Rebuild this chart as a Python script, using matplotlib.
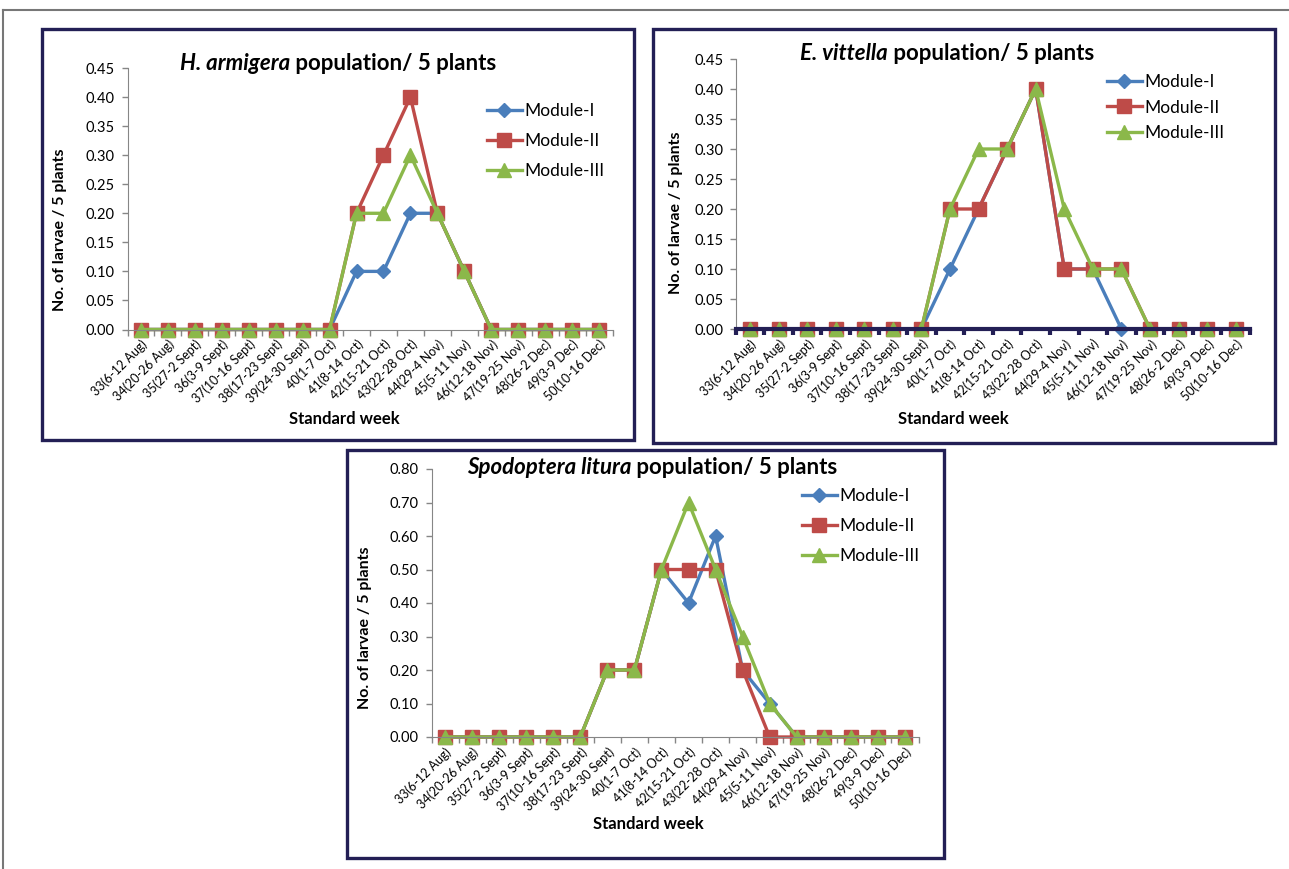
import matplotlib
matplotlib.use("Agg")
import matplotlib.pyplot as plt
from matplotlib.patches import Rectangle
from matplotlib.lines import Line2D
from matplotlib.transforms import IdentityTransform

plt.rcParams['font.family'] = ['Lato', 'DejaVu Sans']

W, H = 1289, 869

weeks = ["33(6-12 Aug)", "34(20-26 Aug)", "35(27-2 Sept)", "36(3-9 Sept)",
         "37(10-16 Sept)", "38(17-23 Sept)", "39(24-30 Sept)", "40(1-7 Oct)",
         "41(8-14 Oct)", "42(15-21 Oct)", "43(22-28 Oct)", "44(29-4 Nov)",
         "45(5-11 Nov)", "46(12-18 Nov)", "47(19-25 Nov)", "48(26-2 Dec)",
         "49(3-9 Dec)", "50(10-16 Dec)"]
modules = ["Module-I", "Module-II", "Module-III"]

# H. armigera
ha_m1 = [0, 0, 0, 0, 0, 0, 0, 0, 0.1, 0.1, 0.2, 0.2, 0.1, 0, 0, 0, 0, 0]
ha_m2 = [0, 0, 0, 0, 0, 0, 0, 0, 0.2, 0.3, 0.4, 0.2, 0.1, 0, 0, 0, 0, 0]
ha_m3 = [0, 0, 0, 0, 0, 0, 0, 0, 0.2, 0.2, 0.3, 0.2, 0.1, 0, 0, 0, 0, 0]

# E. vittella
ev_m1 = [0, 0, 0, 0, 0, 0, 0, 0.1, 0.2, 0.3, 0.4, 0.1, 0.1, 0, 0, 0, 0, 0]
ev_m2 = [0, 0, 0, 0, 0, 0, 0, 0.2, 0.2, 0.3, 0.4, 0.1, 0.1, 0.1, 0, 0, 0, 0]
ev_m3 = [0, 0, 0, 0, 0, 0, 0, 0.2, 0.3, 0.3, 0.4, 0.2, 0.1, 0.1, 0, 0, 0, 0]

# Spodoptera litura
sl_m1 = [0, 0, 0, 0, 0, 0, 0.2, 0.2, 0.5, 0.4, 0.6, 0.2, 0.1, 0, 0, 0, 0, 0]
sl_m2 = [0, 0, 0, 0, 0, 0, 0.2, 0.2, 0.5, 0.5, 0.5, 0.2, 0, 0, 0, 0, 0, 0]
sl_m3 = [0, 0, 0, 0, 0, 0, 0.2, 0.2, 0.5, 0.7, 0.5, 0.3, 0.1, 0, 0, 0, 0, 0]

colors = ["#4A7EBB", "#BE4B48", "#8BB84A"]
markers = ["D", "s", "^"]
msizes = [7.5, 9.5, 10]
navy = "#231F55"
gray = "#868686"

fig = plt.figure(figsize=(W / 100, H / 100), dpi=100)
renderer = fig.canvas.get_renderer()


def px(x, y):
    return x / W, 1 - y / H


def box(l, t, r, b):
    fig.add_artist(Rectangle(px(l, b), (r - l) / W, (b - t) / H, transform=fig.transFigure,
                             fill=False, edgecolor=navy, linewidth=2.4))


def mixed_title(cx, cy, ital, rest, size=16):
    t1 = fig.text(0, 0, ital, style='italic', weight='bold', size=size,
                  transform=IdentityTransform(), va='center')
    t2 = fig.text(0, 0, rest, weight='bold', size=size,
                  transform=IdentityTransform(), va='center')
    w1 = t1.get_window_extent(renderer).width
    w2 = t2.get_window_extent(renderer).width
    x0 = cx - (w1 + w2) / 2
    t1.set_position((x0, H - cy))
    t2.set_position((x0 + w1, H - cy))


def panel(l, t, r, b, series, ymax, ystep, leg, spacing, thick_axis=False):
    ax = fig.add_axes([l / W, 1 - b / H, (r - l) / W, (b - t) / H])
    x = list(range(len(weeks)))
    for vals, c, m, ms, name in zip(series, colors, markers, msizes, modules):
        ax.plot(x, vals, color=c, marker=m, markersize=ms, linewidth=2.4, label=name,
                clip_on=False)
    ax.set_xlim(-0.5, len(weeks) - 0.5)
    ax.set_ylim(0, ymax)
    n = int(round(ymax / ystep))
    ax.set_yticks([i * ystep for i in range(n + 1)])
    ax.set_yticklabels(["%.2f" % (i * ystep) for i in range(n + 1)], fontsize=10.5)
    ax.set_xticks(x)
    ax.set_xticklabels(weeks, fontsize=9, rotation=45, ha='right', rotation_mode='anchor')
    ax.set_xticks([i - 0.5 for i in range(len(weeks) + 1)], minor=True)
    ax.tick_params(axis='x', which='major', length=0, pad=6)
    ax.tick_params(axis='y', length=4, color=gray, width=1, pad=5)
    for s in ['top', 'right']:
        ax.spines[s].set_visible(False)
    ax.spines['left'].set_color(gray)
    if thick_axis:
        ax.spines['bottom'].set_color(navy)
        ax.spines['bottom'].set_linewidth(3)
        ax.tick_params(axis='x', which='minor', length=4, width=3, color=navy)
    else:
        ax.spines['bottom'].set_color(gray)
        ax.tick_params(axis='x', which='minor', length=4, width=1, color=gray)
    ax.legend(loc='upper left', bbox_to_anchor=px(*leg), bbox_transform=fig.transFigure,
              frameon=False, fontsize=12.5, handlelength=2.0, handletextpad=0.15,
              labelspacing=spacing, borderpad=0, borderaxespad=0)
    return ax


# outer frame
fig.add_artist(Line2D([3 / W, 1], [1 - 10 / H, 1 - 10 / H], color="#777777", linewidth=1.5))
fig.add_artist(Line2D([3 / W, 3 / W], [0, 1 - 10 / H], color="#777777", linewidth=1.5))

# panel 1
box(42, 29, 634, 440)
panel(127.5, 68, 612.5, 329.5, [ha_m1, ha_m2, ha_m3], 0.45, 0.05, (487, 103), 0.82)
mixed_title(338, 64, "H. armigera", " population/ 5 plants")
fig.text(*px(60, 230), "No. of larvae / 5 plants", rotation=90, weight='bold',
         fontsize=11.5, ha='center', va='center')
fig.text(*px(344, 419), "Standard week", weight='bold', fontsize=12,
         ha='center', va='center')

# panel 2
box(653, 29, 1275, 443)
panel(735.7, 59, 1250, 329, [ev_m1, ev_m2, ev_m3], 0.45, 0.05, (1107, 74), 0.55,
      thick_axis=True)
mixed_title(947, 54, "E. vittella", " population/ 5 plants")
fig.text(*px(676, 213), "No. of larvae / 5 plants", rotation=90, weight='bold',
         fontsize=11.5, ha='center', va='center')
fig.text(*px(953, 419), "Standard week", weight='bold', fontsize=12,
         ha='center', va='center')

# panel 3
box(347, 450, 944, 858)
panel(431.5, 469, 918.5, 737, [sl_m1, sl_m2, sl_m3], 0.80, 0.10, (802, 488), 0.82)
mixed_title(652, 467, "Spodoptera litura", " population/ 5 plants")
fig.text(*px(365, 628), "No. of larvae / 5 plants", rotation=90, weight='bold',
         fontsize=11.5, ha='center', va='center')
fig.text(*px(648, 824), "Standard week", weight='bold', fontsize=12,
         ha='center', va='center')

fig.savefig("out.png", dpi=100)
